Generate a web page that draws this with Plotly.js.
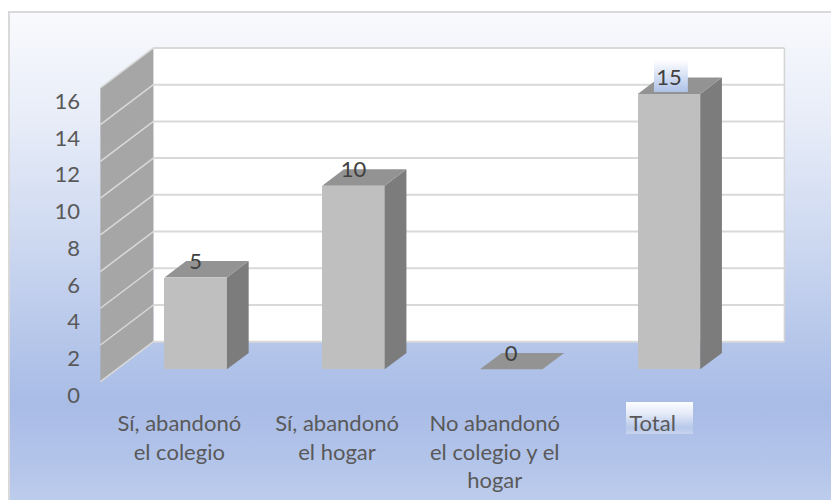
<!DOCTYPE html>
<html>
<head>
<meta charset="utf-8">
<script src="https://cdn.plot.ly/plotly-3.0.1.min.js"></script>
<style>
  html, body { margin: 0; padding: 0; background: #ffffff; }
  #wrap { position: relative; width: 831px; height: 500px; overflow: hidden; background: #ffffff; }
  #bg { position: absolute; left: 8px; top: 11px; width: 860px; height: 520px;
        border: 2px solid #d9d9d9; box-sizing: border-box;
        background: linear-gradient(to bottom, #f9fafd 0%, #e8edf8 20%, #c9d5ef 48%, #b2c4e9 66%, #a9bce6 76%, #b4c5ea 88%, #c5d3ef 100%); }
  #totalbox { position: absolute; left: 626px; top: 402px; width: 67px; height: 32px;
        background: linear-gradient(to bottom, #fbfcfe 0%, #e6ecf8 35%, #b7c8ea 80%, #c8d4ef 100%); }
  #chart { position: absolute; left: 0; top: 0; width: 831px; height: 500px; }
</style>
</head>
<body>
<div id="wrap">
  <div id="bg"></div>
  <div id="totalbox"></div>
  <div id="chart"></div>
</div>
<script>
// ---- data ----
const categories = ["Sí, abandonó el colegio", "Sí, abandonó el hogar", "No abandonó el colegio y el hogar", "Total"];
const tickLabels = ["Sí, abandonó<br>el colegio", "Sí, abandonó<br>el hogar", "No abandonó<br>el colegio y el<br>hogar", "Total"];
const values = [5, 10, 0, 15];
const yTicks = [0, 2, 4, 6, 8, 10, 12, 14, 16];

// ---- 3D geometry (style) ----
const BAR_W = 0.396;
const DEPTH_X = 0.336, DEPTH_Y = 2.178;
const F_BAR = 0.31, F_BARBACK = 0.72;
const LABEL_DY = 1.40;   // value-axis labels sit below the bar plane
function off(f) { return [(f - F_BAR) * DEPTH_X, (f - F_BAR) * DEPTH_Y]; }
const [fx, fy] = off(0);
const [bx, by] = off(1);
const [dx, dy] = off(F_BARBACK);

const xs = categories.map((_, i) => i);
const xL = -0.5, xR = categories.length - 0.5;
const yMax = yTicks[yTicks.length - 1];

const FONT = "Lato, 'Open Sans', sans-serif";

// walls and gridlines
const shapes = [];
shapes.push({type: 'rect', xref: 'x', yref: 'y', layer: 'below',
  x0: xL + bx, x1: xR + bx, y0: 0 + by, y1: yMax + by,
  fillcolor: '#ffffff', line: {width: 0}});
shapes.push({type: 'line', xref: 'x', yref: 'y', layer: 'below',
  x0: xR + bx, x1: xR + bx, y0: 0 + by, y1: yMax + by,
  line: {color: '#d4d4d4', width: 1.5}});
shapes.push({type: 'path', xref: 'x', yref: 'y', layer: 'below',
  path: `M ${xL + fx} ${fy} L ${xL + bx} ${by} L ${xL + bx} ${yMax + by} L ${xL + fx} ${yMax + fy} Z`,
  fillcolor: '#a6a6a6', line: {width: 0}});
yTicks.forEach(t => {
  shapes.push({type: 'line', xref: 'x', yref: 'y', layer: 'below',
    x0: xL + bx, x1: xR + bx, y0: t + by, y1: t + by,
    line: {color: '#d9d9d9', width: 2}});
  shapes.push({type: 'line', xref: 'x', yref: 'y', layer: 'below',
    x0: xL + fx, x1: xL + bx, y0: t + fy, y1: t + by,
    line: {color: '#d9d9d9', width: 1.5}});
});

// bar faces
const sideX = [], sideY = [], topX = [], topY = [];
xs.forEach((x, i) => {
  const v = values[i];
  const r = x + BAR_W / 2, l = x - BAR_W / 2;
  if (v > 0) {
    sideX.push(r, r + dx, r + dx, r, r, null);
    sideY.push(0, dy, v + dy, v, 0, null);
  }
  topX.push(l, r, r + dx, l + dx, l, null);
  topY.push(v, v, v + dy, v + dy, v, null);
});

// gradient box behind the largest value label
const iMax = values.indexOf(Math.max(...values));
const bxL = xs[iMax] - 0.095, bxR = xs[iMax] + 0.12;
const byB = values[iMax] + 0.10, byT = values[iMax] + 1.85;

const traces = [
  {type: 'bar', x: xs, y: values, width: BAR_W,
   marker: {color: '#bfbfbf', line: {width: 0}}, hoverinfo: 'skip', showlegend: false},
  {type: 'scatter', mode: 'lines', x: sideX, y: sideY, fill: 'toself',
   fillcolor: '#7c7c7c', line: {width: 0}, hoverinfo: 'skip', showlegend: false},
  {type: 'scatter', mode: 'lines', x: topX, y: topY, fill: 'toself',
   fillcolor: '#939393', line: {width: 0}, hoverinfo: 'skip', showlegend: false},
  {type: 'scatter', mode: 'lines', x: [bxL, bxR, bxR, bxL, bxL], y: [byB, byB, byT, byT, byB],
   fill: 'toself', fillcolor: '#d0dbf2',
   fillgradient: {type: 'vertical', start: byB, stop: byT,
     colorscale: [[0, '#aec1e8'], [0.5, '#d6e0f4'], [1, '#ffffff']]},
   line: {width: 0}, hoverinfo: 'skip', showlegend: false},
  {type: 'scatter', mode: 'text', x: xs, y: values.map(v => v + 0.77),
   text: values.map(String), textposition: 'middle center',
   textfont: {family: FONT, size: 22, color: '#404040'},
   hoverinfo: 'skip', showlegend: false, cliponaxis: false}
];

const layout = {
  width: 831, height: 500,
  margin: {l: 95, r: 41, t: 40, b: 100},
  paper_bgcolor: 'rgba(0,0,0,0)', plot_bgcolor: 'rgba(0,0,0,0)',
  showlegend: false,
  bargap: 0,
  font: {family: FONT, size: 22, color: '#595959'},
  xaxis: {range: [-0.63835, 3.76735], tickmode: 'array',
    tickvals: xs.map(x => x + fx), ticktext: tickLabels,
    ticklabelstandoff: 8, ticks: '',
    showgrid: false, zeroline: false, showline: false, fixedrange: true,
    tickfont: {family: FONT, size: 22, color: '#595959'}},
  yaxis: {range: [-1.672, 17.935], tickmode: 'array',
    tickvals: yTicks.map(t => t - LABEL_DY), ticktext: yTicks.map(String),
    ticklabelstandoff: 14, ticks: '',
    showgrid: false, zeroline: false, showline: false, fixedrange: true,
    tickfont: {family: FONT, size: 22, color: '#595959'}},
  shapes: shapes
};

Plotly.newPlot('chart', traces, layout, {displayModeBar: false, staticPlot: true});
</script>
</body>
</html>
